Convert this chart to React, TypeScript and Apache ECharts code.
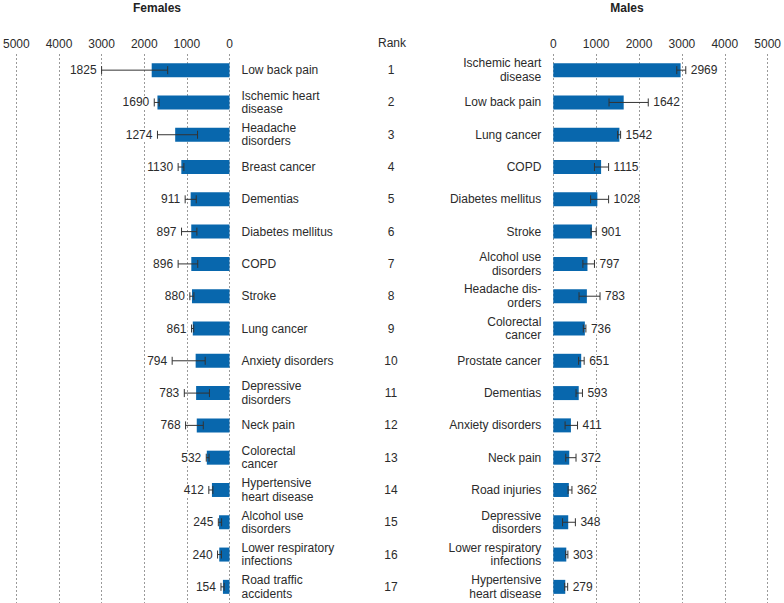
import React, { useEffect, useRef } from "react";
import * as echarts from "echarts";

const FONT = '"Liberation Sans", Arial, Helvetica, sans-serif';
const FS = 12;

const RANKS = ["1", "2", "3", "4", "5", "6", "7", "8", "9", "10", "11", "12", "13", "14", "15", "16", "17"];

const F_CATS = [
  "Low back pain",
  "Ischemic heart\ndisease",
  "Headache\ndisorders",
  "Breast cancer",
  "Dementias",
  "Diabetes mellitus",
  "COPD",
  "Stroke",
  "Lung cancer",
  "Anxiety disorders",
  "Depressive\ndisorders",
  "Neck pain",
  "Colorectal\ncancer",
  "Hypertensive\nheart disease",
  "Alcohol use\ndisorders",
  "Lower respiratory\ninfections",
  "Road traffic\naccidents",
];
const F_VALUES = [1825, 1690, 1274, 1130, 911, 897, 896, 880, 861, 794, 783, 768, 532, 412, 245, 240, 154];
const F_LOW = [1450, 1650, 750, 1070, 780, 765, 745, 835, 840, 570, 470, 615, 480, 390, 185, 190, 125];
const F_HIGH = [3000, 1765, 1690, 1205, 1040, 1125, 1205, 930, 890, 1345, 1060, 1030, 545, 485, 262, 280, 200];

const M_CATS = [
  "Ischemic heart\ndisease",
  "Low back pain",
  "Lung cancer",
  "COPD",
  "Diabetes mellitus",
  "Stroke",
  "Alcohol use\ndisorders",
  "Headache dis-\norders",
  "Colorectal\ncancer",
  "Prostate cancer",
  "Dementias",
  "Anxiety disorders",
  "Neck pain",
  "Road injuries",
  "Depressive\ndisorders",
  "Lower respiratory\ninfections",
  "Hypertensive\nheart disease",
];
const M_VALUES = [2969, 1642, 1542, 1115, 1028, 901, 797, 783, 736, 651, 593, 411, 372, 362, 348, 303, 279];
const M_LOW = [2880, 1300, 1500, 960, 870, 880, 690, 600, 700, 590, 530, 275, 290, 345, 215, 288, 265];
const M_HIGH = [3090, 2215, 1570, 1290, 1290, 1000, 960, 1090, 760, 720, 680, 565, 530, 435, 515, 340, 335];

const BAR_COLOR = "#0867ad";
const TEXT_COLOR = "#2b2b2b";

function errRender(side: "left" | "right") {
  return (params: any, api: any) => {
    const idx = api.value(2);
    const lo = api.coord([api.value(0), idx]);
    const hi = api.coord([api.value(1), idx]);
    const c = 4;
    const dir = side === "left" ? -1 : 1;
    const lineStyle = { stroke: "#333", lineWidth: 1 };
    return {
      type: "group",
      children: [
        { type: "line", shape: { x1: lo[0], y1: lo[1], x2: hi[0], y2: hi[1] }, style: lineStyle },
        { type: "line", shape: { x1: lo[0], y1: lo[1] - c, x2: lo[0], y2: lo[1] + c }, style: lineStyle },
        { type: "line", shape: { x1: hi[0], y1: hi[1] - c, x2: hi[0], y2: hi[1] + c }, style: lineStyle },
        {
          type: "text",
          style: {
            text: String(api.value(3)),
            x: hi[0] + dir * 4,
            y: hi[1],
            align: side === "left" ? "right" : "left",
            textAlign: side === "left" ? "right" : "left",
            verticalAlign: "middle",
            textVerticalAlign: "middle",
            fill: TEXT_COLOR,
            font: `${FS}px ${FONT}`,
            backgroundColor: "#fff",
            padding: [0, 1],
          },
        },
      ],
    };
  };
}

export default function App() {
  const ref = useRef<HTMLDivElement>(null);
  useEffect(() => {
    document.body.style.margin = "0";
    const chart = echarts.init(ref.current!, null, { renderer: "svg" });
    const splitLine = { show: true, lineStyle: { color: "#9a9a9a", type: [2, 2] as any, width: 1 } };
    const xCommon = {
      type: "value",
      min: 0,
      max: 5000,
      interval: 1000,
      position: "top",
      axisLine: { show: false },
      axisTick: { show: false },
      axisLabel: {
        color: TEXT_COLOR,
        fontSize: FS,
        fontFamily: FONT,
        margin: 4,
        formatter: (v: number) => String(v),
      },
      splitLine,
    };
    const gTop = 54;
    const gHeight = 549;
    const catLabel = { color: TEXT_COLOR, fontSize: FS, fontFamily: FONT, lineHeight: 13.5 };
    chart.setOption({
      animation: false,
      textStyle: { fontFamily: FONT },
      grid: [
        { left: 10, width: 219.5, top: gTop, height: gHeight },
        { left: 553.3, width: 220.7, top: gTop, height: gHeight },
        { left: 391, width: 1, top: gTop, height: gHeight },
      ],
      xAxis: [
        { ...xCommon, gridIndex: 0, inverse: true },
        { ...xCommon, gridIndex: 1 },
        { type: "value", gridIndex: 2, min: 0, max: 1, show: false },
      ],
      yAxis: [
        {
          type: "category",
          gridIndex: 0,
          data: F_CATS,
          inverse: true,
          position: "right",
          axisLine: { show: false },
          axisTick: { show: false },
          axisLabel: { ...catLabel, align: "left", margin: 12 },
        },
        {
          type: "category",
          gridIndex: 1,
          data: M_CATS,
          inverse: true,
          position: "left",
          axisLine: { show: false },
          axisTick: { show: false },
          axisLabel: { ...catLabel, align: "right", margin: 12 },
        },
        {
          type: "category",
          gridIndex: 2,
          data: RANKS,
          inverse: true,
          position: "left",
          axisLine: { show: false },
          axisTick: { show: false },
          axisLabel: { ...catLabel, align: "center", margin: 0 },
        },
      ],
      graphic: [
        {
          type: "text",
          x: 157,
          y: 8,
          style: { text: "Females", align: "center", textAlign: "center", verticalAlign: "middle", textVerticalAlign: "middle", font: `bold 12px ${FONT}`, fill: "#222" },
        },
        {
          type: "text",
          x: 627,
          y: 8,
          style: { text: "Males", align: "center", textAlign: "center", verticalAlign: "middle", textVerticalAlign: "middle", font: `bold 12px ${FONT}`, fill: "#222" },
        },
        {
          type: "text",
          x: 392,
          y: 43,
          style: { text: "Rank", align: "center", textAlign: "center", verticalAlign: "middle", textVerticalAlign: "middle", font: `${FS}px ${FONT}`, fill: TEXT_COLOR },
        },
      ],
      series: [
        {
          type: "bar",
          xAxisIndex: 0,
          yAxisIndex: 0,
          data: F_VALUES,
          barWidth: 14,
          itemStyle: { color: BAR_COLOR },
        },
        {
          type: "bar",
          xAxisIndex: 1,
          yAxisIndex: 1,
          data: M_VALUES,
          barWidth: 14,
          itemStyle: { color: BAR_COLOR },
        },
        {
          type: "custom",
          xAxisIndex: 0,
          yAxisIndex: 0,
          clip: false,
          renderItem: errRender("left"),
          encode: { x: [0, 1], y: 2 },
          data: F_VALUES.map((v, i) => [F_LOW[i], F_HIGH[i], i, v]),
          z: 5,
        },
        {
          type: "custom",
          xAxisIndex: 1,
          yAxisIndex: 1,
          clip: false,
          renderItem: errRender("right"),
          encode: { x: [0, 1], y: 2 },
          data: M_VALUES.map((v, i) => [M_LOW[i], M_HIGH[i], i, v]),
          z: 5,
        },
      ],
    });
    return () => chart.dispose();
  }, []);
  return <div ref={ref} style={{ width: 784, height: 603 }} />;
}
